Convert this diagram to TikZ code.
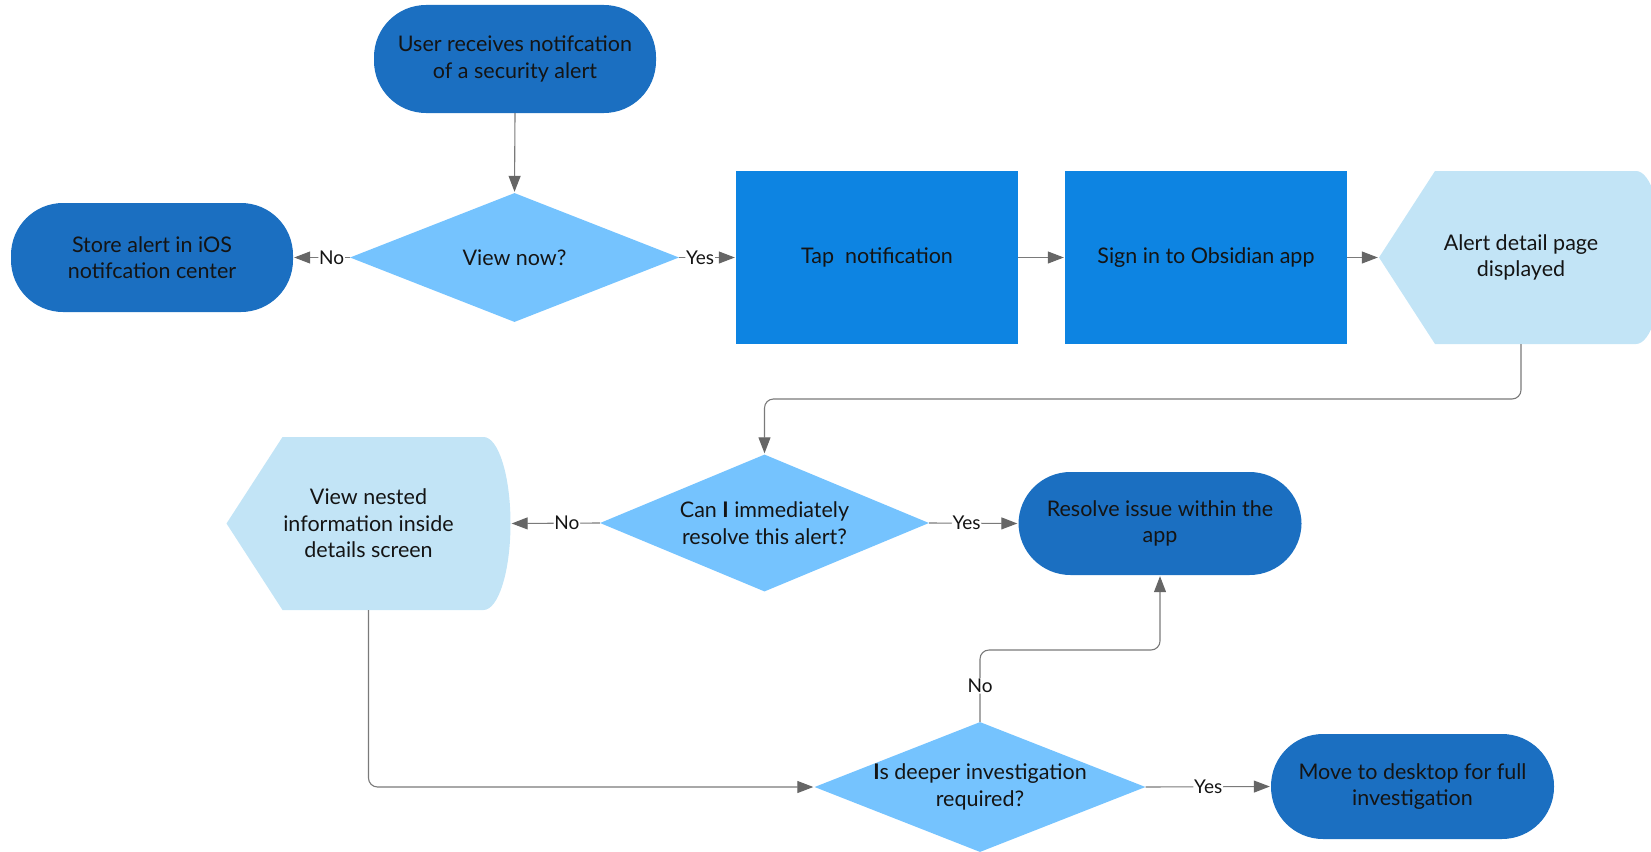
\documentclass[tikz,border=0pt]{standalone}
\usepackage{fontspec}
\setmainfont{Lato}
\usetikzlibrary{shapes.geometric,arrows.meta}

\definecolor{termfill}{HTML}{1B6FC1}
\definecolor{procfill}{HTML}{0D84E2}
\definecolor{decfill}{HTML}{75C3FE}
\definecolor{dispfill}{HTML}{C2E4F6}
\definecolor{linegray}{HTML}{7A7A7A}
\definecolor{tipgray}{HTML}{666666}
\definecolor{inkcol}{HTML}{141414}

\newcommand{\boxfont}{\fontsize{21.5}{26.5}\selectfont}
\newcommand{\tagfont}{\fontsize{19}{22}\selectfont}

\tikzset{
  base/.style={align=center, font=\boxfont, text=inkcol, inner sep=0pt},
  terminal/.style={base, rectangle, rounded corners=52pt, fill=termfill,
    minimum width=282pt},
  process/.style={base, rectangle, fill=procfill,
    minimum width=282pt, minimum height=173pt},
  decision/.style={base, diamond, fill=decfill},
  displaybox/.style={base, rectangle, minimum width=284pt, minimum height=173pt,
    path picture={
      \fill[dispfill] (path picture bounding box.west)
        -- ([xshift=56pt]path picture bounding box.north west)
        -- ([xshift=-27pt]path picture bounding box.north east)
        arc[start angle=90, end angle=-90, x radius=27pt, y radius=86.5pt]
        -- ([xshift=56pt]path picture bounding box.south west) -- cycle;
    }},
  conn/.style={draw=linegray, line width=1.1pt,
    -{Triangle[length=16pt,width=12pt,color=tipgray]},
    rounded corners=9pt, shorten >=1pt},
  tag/.style={fill=white, font=\tagfont, text=inkcol, inner sep=0.8pt}
}

\begin{document}
\begin{tikzpicture}[x=1pt, y=-1pt]
  \useasboundingbox (0,0) rectangle (1651,851);
  \clip (0,0) rectangle (1651,851);

  % shapes
  \node[terminal, minimum height=108pt] (user) at (515,59)
    {User receives notifcation\\of a security alert};
  \node[decision, minimum width=329pt, minimum height=129pt,
        label={[base]center:View now?}] (view) at (514.5,257.5) {};
  \node[terminal, minimum height=109pt] (store) at (152,257.5)
    {Store alert in iOS\\notifcation center};
  \node[process] (tap) at (877,257.5) {Tap~ notification};
  \node[process] (sign) at (1206,257.5) {Sign in to Obsidian app};
  \node[displaybox] (alert) at (1521,257.5) {Alert detail page\\displayed};

  \node[decision, minimum width=329pt, minimum height=137pt,
        label={[base]center:Can \textbf{I} immediately\\resolve this alert?}]
        (can) at (764.5,523) {};
  \node[displaybox] (nested) at (368.5,523.5)
    {View nested\\information inside\\details screen};
  \node[terminal, minimum width=283pt, minimum height=103pt] (resolve) at (1160,523.5)
    {Resolve issue within the\\app};

  \node[decision, minimum width=331pt, minimum height=130pt,
        label={[base]center:\textbf{I}s deeper investigation\\required?}]
        (deeper) at (980,787) {};
  \node[terminal, minimum width=283pt, minimum height=105pt] (move) at (1412.5,786.5)
    {Move to desktop for full\\investigation};

  % connectors
  \draw[conn] (user.south) -- (view.north);
  \draw[conn] (view.west) -- node[tag, pos=0.32] {No} (store.east);
  \draw[conn] (view.east) -- node[tag, pos=0.37] {Yes} (tap.west);
  \draw[conn] (tap.east) -- (sign.west);
  \draw[conn] (sign.east) -- (alert.west);
  \draw[conn] (alert.south) -- (alert.south |- 0,399) -- (can.north |- 0,399) -- (can.north);
  \draw[conn] (can.west) -- node[tag, pos=0.37] {No} (nested.east);
  \draw[conn] (can.east) -- node[tag, pos=0.42] {Yes} (resolve.west);
  \draw[conn] (nested.south) |- (deeper.west);
  \draw[conn] (deeper.north) -- node[tag, pos=0.5] {No} (deeper.north |- 0,650)
    -- (resolve.south |- 0,650) -- (resolve.south);
  \draw[conn] (deeper.east) -- node[tag, pos=0.5] {Yes} (move.west);
\end{tikzpicture}
\end{document}
